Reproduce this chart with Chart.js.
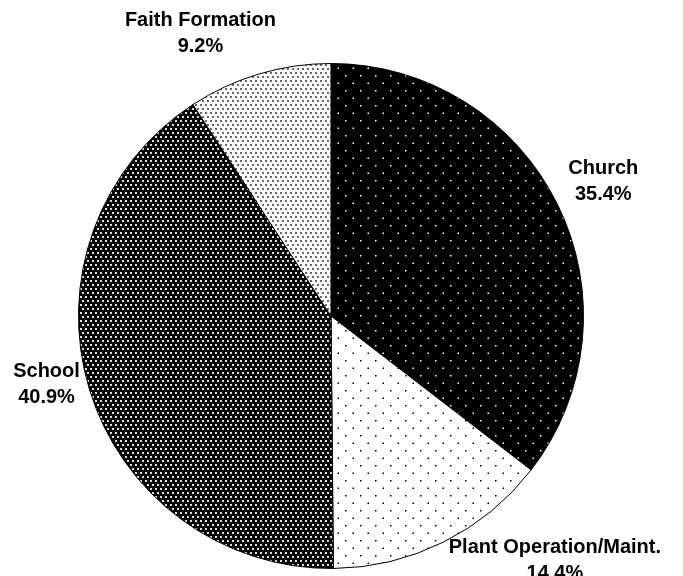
<!DOCTYPE html>
<html lang="en">
<head>
    <meta charset="utf-8" />
    <title>Budget Pie</title>
    <script src="https://cdn.jsdelivr.net/npm/chart.js"></script>
    <style>
        html, body { margin: 0; padding: 0; background: #fff; }
    </style>
</head>
<body>
    <canvas id="chart" width="683" height="576" style="width: 683px; height: 576px"></canvas>
    <script>
        var labels = ['Church', 'Plant Operation/Maint.', 'School', 'Faith Formation'];
        var values = [35.4, 14.4, 40.9, 9.2];
        var valueText = ['35.4%', '14.4%', '40.9%', '9.2%'];

        // label placement tweaks (angle shift in degrees, distance beyond the rim)
        var labelAngleShift = [0, -16, 3.4, -8.2];
        var labelDistance = [51, 79, 40, 59];

        function makePattern(bg, fg, w, h, dots) {
            var c = document.createElement('canvas');
            c.width = w; c.height = h;
            var g = c.getContext('2d');
            g.fillStyle = bg;
            g.fillRect(0, 0, w, h);
            g.fillStyle = fg;
            dots.forEach(function (d) { g.fillRect(d[0], d[1], d[2], d[2]); });
            return g.createPattern(c, 'repeat');
        }

        var ctx = document.getElementById('chart').getContext('2d');
        var fine = [[0, 0, 2], [5, 0, 2], [2, 4, 2], [7, 4, 2]];
        var fills = [
            makePattern('#000', '#fff', 15, 15, [[0, 0, 1.5], [7.5, 7.5, 1.5]]),
            makePattern('#fff', '#000', 15, 15, [[0, 0, 1.5], [7.5, 7.5, 1.5]]),
            makePattern('#000', '#ddd', 10, 8, fine),
            makePattern('#fff', '#666', 10, 8, fine)
        ];

        var outsideLabels = {
            id: 'outsideLabels',
            afterDraw: function (chart) {
                var meta = chart.getDatasetMeta(0);
                var c = chart.ctx;
                c.save();
                c.font = 'bold 20px "Liberation Sans", Arial, sans-serif';
                c.fillStyle = '#000';
                c.textAlign = 'center';
                c.textBaseline = 'middle';
                meta.data.forEach(function (arc, i) {
                    var p = arc.getProps(['x', 'y', 'startAngle', 'endAngle', 'outerRadius'], true);
                    var a = (p.startAngle + p.endAngle) / 2 + labelAngleShift[i] * Math.PI / 180;
                    var r = p.outerRadius + labelDistance[i];
                    var x = p.x + Math.cos(a) * r;
                    var y = p.y + Math.sin(a) * r;
                    c.fillText(labels[i], x, y - 13);
                    c.fillText(valueText[i], x, y + 13);
                });
                c.restore();
            }
        };

        new Chart(ctx, {
            type: 'pie',
            data: {
                labels: labels,
                datasets: [{
                    data: values,
                    backgroundColor: fills,
                    borderColor: '#000',
                    borderWidth: 1
                }]
            },
            options: {
                responsive: false,
                animation: false,
                layout: { padding: { left: 78, right: 99, top: 63, bottom: 7 } },
                plugins: {
                    legend: { display: false },
                    tooltip: { enabled: false }
                }
            },
            plugins: [outsideLabels]
        });
    </script>
</body>
</html>
